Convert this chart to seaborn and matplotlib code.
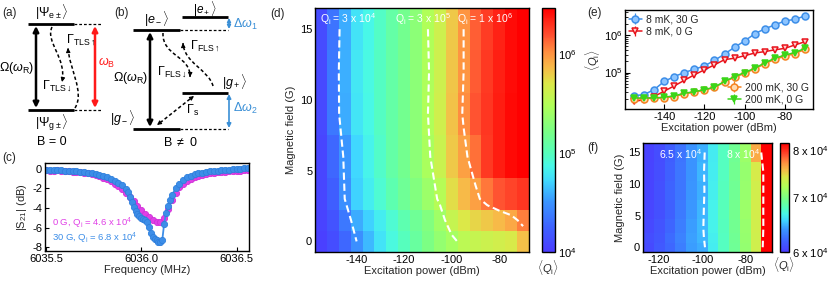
import numpy as np
import matplotlib
matplotlib.use("Agg")
import matplotlib.pyplot as plt
import seaborn as sns
from matplotlib.colors import LinearSegmentedColormap, LogNorm
from matplotlib.path import Path
from matplotlib.patches import PathPatch

# ---------------- data ----------------
power = [-155, -150, -145, -140, -135, -130, -125, -120, -115, -110,
         -105, -100, -95, -90, -85, -80, -75, -70]
field = [0, 1.5, 3, 6, 9, 12, 15]

# (d) <Qi> at 8 mK, in units of 1e4, one list per field row
qd_0g = [1.05, 1.3, 1.9, 3.0, 4.2, 5.8, 7.8, 10, 13, 17, 22, 27, 34, 38, 41, 44, 48, 70]
qd_1p5g = [1.1, 1.4, 2.3, 3.8, 5.0, 6.5, 8.5, 11, 14, 18, 25, 38, 50, 58, 65, 72, 85, 115]
qd_3g = [1.15, 1.7, 3.0, 5.0, 6.5, 8.5, 11, 14, 18, 24, 32, 55, 72, 90, 120, 150, 170, 190]
qd_6g = [1.15, 1.9, 3.2, 5.2, 7.0, 9.0, 12, 15, 20, 28, 40, 65, 90, 125, 185, 230, 270, 300]
qd_9g = [1.2, 2.3, 3.8, 6.0, 7.5, 9.5, 12, 15, 20, 30, 43, 68, 105, 150, 190, 230, 270, 300]
qd_12g = [1.2, 2.3, 3.9, 6.1, 7.6, 9.4, 12, 15, 20, 29, 42, 66, 100, 145, 185, 225, 265, 300]
qd_15g = [1.25, 2.2, 3.8, 5.8, 7.3, 9.2, 12, 15, 20, 30, 42, 65, 100, 140, 180, 220, 260, 310]
qd_levels = [3e4, 3e5, 1e6]

# (e) <Qi> versus power
qe_8mk_30g = [2.4e4, 2.6e4, 3.5e4, 5.8e4, 7.8e4, 1.0e5, 1.22e5, 1.5e5, 2.1e5, 3.1e5,
              4.7e5, 6.9e5, 1.07e6, 1.45e6, 1.85e6, 2.35e6, 2.6e6, 3.2e6]
qe_8mk_0g = [1.7e4, 1.9e4, 2.3e4, 3.2e4, 4.4e4, 6.2e4, 8.7e4, 1.18e5, 1.6e5, 2.2e5,
             2.4e5, 2.8e5, 3.3e5, 3.6e5, 4.0e5, 4.4e5, 5.4e5, 6.6e5]
qe_200mk_30g = [2.0e4, 2.0e4, 2.1e4, 2.1e4, 2.3e4, 2.7e4, 3.0e4, 3.4e4, 4.0e4, 5.6e4,
                7.5e4, 9.5e4, 1.25e5, 1.7e5, 2.25e5, 2.7e5, 3.2e5, 4.1e5]
qe_200mk_0g = [2.1e4, 2.1e4, 2.1e4, 2.2e4, 2.4e4, 2.8e4, 3.1e4, 3.5e4, 4.1e4, 5.8e4,
               7.8e4, 1.0e5, 1.3e5, 1.8e5, 2.4e5, 2.9e5, 3.4e5, 4.4e5]

# (f) <Qi> at 200 mK, units of 1e4
power_f = [-125, -120, -115, -110, -105, -100, -95, -90, -85, -80, -75, -70]
qf_0g = [6.07, 6.14, 6.21, 6.30, 6.41, 6.45, 6.64, 6.78, 6.92, 7.09, 7.35, 8.40]
qf_1p5g = [6.08, 6.13, 6.22, 6.31, 6.42, 6.47, 6.65, 6.78, 6.93, 7.10, 7.35, 8.35]
qf_3g = [6.06, 6.12, 6.20, 6.30, 6.41, 6.48, 6.66, 6.79, 6.94, 7.11, 7.36, 8.30]
qf_6g = [6.05, 6.10, 6.18, 6.28, 6.40, 6.47, 6.66, 6.80, 6.95, 7.12, 7.37, 8.30]
qf_9g = [6.04, 6.10, 6.19, 6.27, 6.39, 6.46, 6.65, 6.79, 6.93, 7.11, 7.36, 8.30]
qf_12g = [6.04, 6.09, 6.18, 6.27, 6.38, 6.47, 6.64, 6.78, 6.94, 7.10, 7.38, 8.30]
qf_15g = [6.03, 6.08, 6.17, 6.26, 6.38, 6.46, 6.63, 6.78, 6.93, 7.12, 7.62, 8.40]
qf_levels = [6.5e4, 8e4]

# (c) |S21| traces
freq_0g = [6035.50, 6035.52, 6035.54, 6035.56, 6035.58, 6035.60, 6035.62, 6035.64, 6035.66,
           6035.68, 6035.70, 6035.72, 6035.74, 6035.76, 6035.78, 6035.80, 6035.82, 6035.84,
           6035.86, 6035.88, 6035.90, 6035.92, 6035.94, 6035.96, 6035.98, 6036.00, 6036.02,
           6036.04, 6036.06, 6036.08, 6036.10, 6036.12, 6036.14, 6036.16, 6036.18, 6036.20,
           6036.22, 6036.24, 6036.26, 6036.28, 6036.30, 6036.32, 6036.34, 6036.36, 6036.38,
           6036.40, 6036.42, 6036.44, 6036.46, 6036.48, 6036.50, 6036.52, 6036.54, 6036.56]
s21_0g = [-0.15, -0.18, -0.2, -0.15, -0.2, -0.25, -0.22, -0.3, -0.3, -0.35, -0.4, -0.45,
          -0.55, -0.6, -0.75, -0.9, -1.05, -1.25, -1.5, -1.8, -2.1, -2.5, -2.9, -3.3, -3.8,
          -4.2, -4.6, -4.9, -5.2, -5.4, -5.45, -5.0, -4.1, -3.2, -2.5, -1.9, -1.5, -1.2,
          -1.0, -0.85, -0.7, -0.6, -0.55, -0.45, -0.4, -0.35, -0.3, -0.3, -0.25, -0.25,
          -0.2, -0.2, -0.15, -0.15]
freq_30g = [6035.50, 6035.52, 6035.54, 6035.56, 6035.58, 6035.60, 6035.62, 6035.64, 6035.66,
            6035.68, 6035.70, 6035.72, 6035.74, 6035.76, 6035.78, 6035.80, 6035.82, 6035.84,
            6035.86, 6035.88, 6035.90, 6035.92, 6035.93, 6035.94, 6035.95, 6035.96, 6035.97,
            6035.98, 6035.99, 6036.00, 6036.01, 6036.02, 6036.03, 6036.04, 6036.05, 6036.06,
            6036.07, 6036.08, 6036.09, 6036.10, 6036.11, 6036.12, 6036.13, 6036.14, 6036.15,
            6036.16, 6036.18, 6036.20, 6036.22, 6036.24, 6036.26, 6036.28, 6036.30, 6036.32,
            6036.34, 6036.36, 6036.38, 6036.40, 6036.42, 6036.44, 6036.46, 6036.48, 6036.50,
            6036.52, 6036.54, 6036.56]
s21_30g = [-0.1, -0.12, -0.1, -0.15, -0.15, -0.2, -0.18, -0.25, -0.25, -0.3, -0.3, -0.4,
           -0.45, -0.5, -0.6, -0.7, -0.85, -1.0, -1.2, -1.4, -1.7, -2.1,
           -2.4, -2.9, -3.4, -3.9, -4.3, -4.6, -4.8, -5.0, -5.1, -5.2, -5.4, -5.9, -6.6,
           -7.0, -7.2, -7.3, -7.45, -7.5, -7.3, -5.6, -4.5, -3.8, -3.2, -2.7,
           -2.0, -1.5, -1.1, -0.85, -0.7, -0.55, -0.45, -0.4, -0.3, -0.25, -0.2, -0.2,
           -0.15, -0.1, -0.1, -0.05, -0.05, 0.0, 0.05, 0.05]

# ---------------- style ----------------
sns.set_style("ticks", {"xtick.direction": "in", "ytick.direction": "in"})
plt.rcParams["font.family"] = ["Liberation Sans", "DejaVu Sans"]
plt.rcParams["mathtext.fontset"] = "custom"
plt.rcParams["mathtext.rm"] = "Liberation Sans"
plt.rcParams["mathtext.it"] = "Liberation Sans:italic"
plt.rcParams["mathtext.bf"] = "Liberation Sans:bold"
plt.rcParams["font.size"] = 8
plt.rcParams["axes.unicode_minus"] = False
plt.rcParams["axes.edgecolor"] = "black"
plt.rcParams["axes.linewidth"] = 1.0
plt.rcParams["xtick.color"] = "black"
plt.rcParams["ytick.color"] = "black"
plt.rcParams["lines.dashed_pattern"] = [3.5, 1.8]

W, H = 830, 283
fig = plt.figure(figsize=(W / 100, H / 100), dpi=100)


def px_axes(l, t, r, b):
    return fig.add_axes([l / W, 1 - b / H, (r - l) / W, (b - t) / H])


def panel_label(x, y, s):
    fig.text(x / W, 1 - y / H, s, ha="left", va="center", fontsize=8.5)


def edges(c):
    c = np.asarray(c, float)
    mid = (c[1:] + c[:-1]) / 2
    return np.concatenate([[2 * c[0] - mid[0]], mid, [2 * c[-1] - mid[-1]]])


qcmap = LinearSegmentedColormap.from_list("qmap", [
    (0.00, "#4b3dff"), (0.10, "#3e62ff"), (0.21, "#3a98ff"), (0.29, "#40d8ff"),
    (0.35, "#48f8e8"), (0.41, "#58ffb8"), (0.49, "#78ff88"), (0.60, "#b0ff58"),
    (0.69, "#dce848"), (0.76, "#f8b848"), (0.82, "#ff9040"), (0.89, "#ff5030"),
    (1.00, "#ff0000")])

# ---------------- (a)/(b) level diagrams ----------------
axs = px_axes(0, 0, 260, 150)
axs.set_xlim(0, 260)
axs.set_ylim(150, 0)
axs.axis("off")

dash = (0, (2.2, 1.6))
blue_c = "#3a8fd6"
fs_dia = 9


def level(x0, x1, y, solid=True):
    if solid:
        axs.plot([x0, x1], [y, y], color="k", lw=2.0, solid_capstyle="butt")
    else:
        axs.plot([x0, x1], [y, y], color="k", lw=0.9, ls=dash)


def darrow(x, y0, y1, color, lw=1.8, ms=8):
    axs.annotate("", xy=(x, y1), xytext=(x, y0),
                 arrowprops=dict(arrowstyle="<|-|>", color=color, lw=lw,
                                 mutation_scale=ms, shrinkA=0, shrinkB=0))


def head(tip, frm, ms=6):
    tip = np.array(tip, float)
    frm = np.array(frm, float)
    d = (tip - frm) / np.hypot(*(tip - frm))
    axs.annotate("", xy=tip, xytext=tip - 2.5 * d,
                 arrowprops=dict(arrowstyle="-|>", color="k", lw=0.8,
                                 mutation_scale=ms, shrinkA=0, shrinkB=0))


def wavy(p0, c1, c2, p3):
    path = Path([p0, c1, c2, p3], [Path.MOVETO, Path.CURVE4, Path.CURVE4, Path.CURVE4])
    axs.add_patch(PathPatch(path, fill=False, ls=dash, lw=1.1, color="k"))
    head(p3, c2)


def dtext(x, y, s, color="k", size=fs_dia):
    axs.text(x, y, s, ha="center", va="center", fontsize=size, color=color)


# (a)
level(28, 74, 24)
level(74, 101, 24, solid=False)
level(28, 74, 110)
level(74, 101, 110, solid=False)
darrow(36, 108, 26, "k")
darrow(95, 108, 26, "#ff1a1a")
wavy((52, 27), (45, 42), (67, 58), (62, 82))
wavy((75, 108), (85, 92), (69, 68), (68, 48))
dtext(52, 12, r"$|\Psi_{\mathrm{e}\pm}\rangle$")
dtext(52, 123, r"$|\Psi_{\mathrm{g}\pm}\rangle$")
dtext(17, 68, r"$\Omega(\omega_\mathrm{R})$")
dtext(107, 63, r"$\omega_\mathrm{B}$", color="#ff1a1a")
dtext(57, 86, r"$\Gamma_{\mathrm{TLS}\downarrow}$")
dtext(81, 40, r"$\Gamma_{\mathrm{TLS}\uparrow}$")
dtext(52, 142, "B = 0")

# (b)
level(133, 180, 30)
level(180, 228, 30, solid=False)
level(182, 228, 17)
level(182, 228, 93)
level(133, 180, 129)
level(180, 228, 129, solid=False)
darrow(150, 127, 32, "k")
darrow(229, 29, 18, blue_c, lw=1.2, ms=5)
darrow(229, 128, 94, blue_c, lw=1.2, ms=6)
wavy((163, 33), (162, 56), (191, 56), (190, 77))
wavy((213, 86), (209, 70), (184, 63), (183, 43))
axs.plot([190, 161], [99, 122], color="k", lw=1.1, ls=dash)
head((194, 96), (190, 99))
head((157, 125), (161, 122))
dtext(157, 19, r"$|e_-\rangle$")
dtext(205, 9.5, r"$|e_+\rangle$", size=8.5)
dtext(235, 82, r"$|g_+\rangle$")
dtext(123, 118, r"$|g_-\rangle$")
dtext(245, 24, r"$\Delta\omega_1$", color=blue_c)
dtext(245, 108, r"$\Delta\omega_2$", color=blue_c)
dtext(131, 78, r"$\Omega(\omega_\mathrm{R})$")
dtext(172, 72, r"$\Gamma_{\mathrm{FLS}\downarrow}$")
dtext(205, 46, r"$\Gamma_{\mathrm{FLS}\uparrow}$")
dtext(193, 110, r"$\Gamma_\mathrm{s}$")
dtext(180, 142, r"B $\neq$ 0")

# ---------------- (c) transmission ----------------
ax_c = px_axes(45, 163, 249, 251)
sns.lineplot(x=freq_0g, y=s21_0g, ax=ax_c, color="#e040e6", lw=1.3, marker="o",
             markersize=4.5, markeredgewidth=0.6, markeredgecolor="#d030d8",
             estimator=None, sort=False)
sns.lineplot(x=freq_30g, y=s21_30g, ax=ax_c, color="#3d8ee8", lw=1.3, marker="o",
             markersize=4.5, markeredgewidth=0.6, markeredgecolor="#2f7fdc",
             estimator=None, sort=False)
ax_c.set_xlim(6035.495, 6036.565)
ax_c.set_ylim(-8.4, 0.6)
ax_c.set_xticks([6035.5, 6036.0, 6036.5])
ax_c.set_xticklabels(["6035.5", "6036.0", "6036.5"])
ax_c.set_yticks([0, -2, -4, -6, -8])
ax_c.set_xlabel("Frequency (MHz)", labelpad=1)
ax_c.set_ylabel(r"|S$_{21}$| (dB)", labelpad=2)
ax_c.tick_params(labelsize=8, length=3, pad=2)
ax_c.text(6035.53, -5.55, r"0 G, Q$_\mathrm{i}$ = 4.6 x 10$^4$", color="#e040e6",
          fontsize=6.8, va="center")
ax_c.text(6035.53, -7.15, r"30 G, Q$_\mathrm{i}$ = 6.8 x 10$^4$", color="#3d8ee8",
          fontsize=6.8, va="center")

# ---------------- (d) map at 8 mK ----------------
ax_d = px_axes(315, 8, 529, 252)
qd = np.array([qd_0g, qd_1p5g, qd_3g, qd_6g, qd_9g, qd_12g, qd_15g]) * 1e4
norm_d = LogNorm(vmin=1e4, vmax=2.9e6)
mesh_d = ax_d.pcolormesh(edges(power), edges(field), qd, cmap=qcmap, norm=norm_d,
                         shading="flat")
ax_d.contour(power, field, np.log10(qd), levels=np.log10(qd_levels), colors="white",
             linestyles="dashed", linewidths=1.5)
ax_d.set_xlim(edges(power)[0], edges(power)[-1])
ax_d.set_ylim(edges(field)[0], edges(field)[-1])
ax_d.set_xticks([-140, -120, -100, -80])
ax_d.set_yticks([0, 5, 10, 15])
ax_d.tick_params(labelsize=8, length=4, pad=2)
ax_d.set_xlabel("Excitation power (dBm)", labelpad=1)
ax_d.set_ylabel("Magnetic field (G)", labelpad=3)
for xq, s in zip([-143.5, -112.2, -86.0], ["3 x 10$^4$", "3 x 10$^5$", "1 x 10$^6$"]):
    ax_d.text(xq, 15.7, r"Q$_\mathrm{i}$ = " + s, color="white", ha="center",
              va="center", fontsize=7.5)

cax_d = px_axes(542, 8, 555, 252)
cb_d = fig.colorbar(mesh_d, cax=cax_d)
cb_d.outline.set_linewidth(1.0)
cb_d.ax.tick_params(which="both", direction="in", labelsize=8, pad=2)
cb_d.ax.tick_params(which="major", length=4)
cb_d.ax.tick_params(which="minor", length=2)
cax_d.text(0.5, -0.025, r"$\langle Q_\mathrm{i}\rangle$", transform=cax_d.transAxes,
           ha="center", va="top", fontsize=8)

# ---------------- (e) Qi versus power ----------------
ax_e = px_axes(625, 10, 813, 109)
series_e = [
    (qe_8mk_30g, "8 mK, 30 G", "o", "#3d8ee8", "#8cc4ff"),
    (qe_8mk_0g, "8 mK, 0 G", "v", "#e8141c", "#ffd0d0"),
    (qe_200mk_30g, "200 mK, 30 G", "o", "#f58220", "#ffd9b0"),
    (qe_200mk_0g, "200 mK, 0 G", "v", "#3ad61a", "#3ad61a"),
]
handles = []
for vals, lab, mk, col, face in series_e:
    v = np.array(vals)
    h = ax_e.errorbar(power, v, yerr=0.12 * v, fmt=mk + "-", color=col, mfc=face,
                      mec=col, mew=1.1, ms=5, lw=1.1, elinewidth=0.9, capsize=0,
                      label=lab)
    handles.append(h)
ax_e.set_yscale("log")
ax_e.set_xlim(-159.5, -66)
ax_e.set_ylim(1.07e4, 4.6e6)
ax_e.set_xticks([-140, -120, -100, -80])
ax_e.tick_params(labelsize=8, length=3.5, pad=2)
ax_e.tick_params(which="minor", length=2)
ax_e.set_xlabel("Excitation power (dBm)", labelpad=1)
ax_e.set_ylabel(r"$\langle Q_\mathrm{i}\rangle$", labelpad=1)
leg1 = ax_e.legend(handles=handles[:2], loc="upper left", frameon=False, fontsize=7.5,
                   handlelength=1.2, handletextpad=0.4, labelspacing=0.25,
                   borderaxespad=0.2, borderpad=0.2)
ax_e.add_artist(leg1)
ax_e.legend(handles=handles[2:], loc="lower right", frameon=False, fontsize=7.5,
            handlelength=1.2, handletextpad=0.4, labelspacing=0.25,
            borderaxespad=0.2, borderpad=0.2)

# ---------------- (f) map at 200 mK ----------------
ax_f = px_axes(643, 143, 772, 252)
qf = np.array([qf_0g, qf_1p5g, qf_3g, qf_6g, qf_9g, qf_12g, qf_15g]) * 1e4
norm_f = LogNorm(vmin=6e4, vmax=8.15e4)
mesh_f = ax_f.pcolormesh(edges(power_f), edges(field), qf, cmap=qcmap, norm=norm_f,
                         shading="flat")
ax_f.contour(power_f, field, np.log10(qf), levels=np.log10(qf_levels), colors="white",
             linestyles="dashed", linewidths=1.5)
ax_f.set_xlim(edges(power_f)[0], edges(power_f)[-1])
ax_f.set_ylim(edges(field)[0], edges(field)[-1])
ax_f.set_xticks([-120, -100, -80])
ax_f.set_yticks([0, 5, 10, 15])
ax_f.tick_params(labelsize=8, length=3.5, pad=2)
ax_f.set_xlabel("Excitation power (dBm)", labelpad=1)
ax_f.set_ylabel("Magnetic field (G)", labelpad=2)
ax_f.text(-110, 14.8, r"6.5 x 10$^4$", color="white", ha="center", va="center", fontsize=7.5)
ax_f.text(-81, 14.8, r"8 x 10$^4$", color="white", ha="center", va="center", fontsize=7.5)

cax_f = px_axes(780, 143, 789, 252)
cb_f = fig.colorbar(mesh_f, cax=cax_f)
cb_f.set_ticks([6e4, 7e4, 8e4])
cb_f.set_ticklabels([r"6 x 10$^4$", r"7 x 10$^4$", r"8 x 10$^4$"])
cb_f.ax.minorticks_off()
cb_f.outline.set_linewidth(1.0)
cb_f.ax.tick_params(direction="in", labelsize=8, length=3.5, pad=2)
cax_f.text(0.5, -0.03, r"$\langle Q_\mathrm{i}\rangle$", transform=cax_f.transAxes,
           ha="center", va="top", fontsize=8)

# ---------------- panel labels ----------------
panel_label(2, 13, "(a)")
panel_label(114, 13, "(b)")
panel_label(2, 158, "(c)")
panel_label(270, 14, "(d)")
panel_label(587, 13, "(e)")
panel_label(587, 148, "(f)")

fig.savefig("out.png", dpi=100)
